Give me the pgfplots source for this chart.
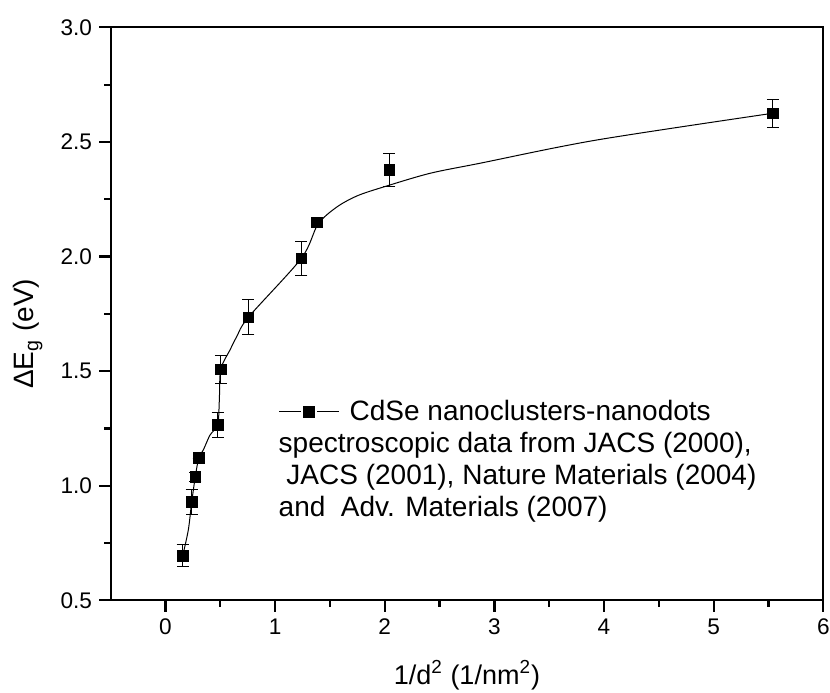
\documentclass[border=0pt]{standalone}
\usepackage{pgfplots}
\pgfplotsset{compat=1.18}
\usepackage{fontspec}
\setmainfont{Liberation Sans}
\begin{document}
\begin{tikzpicture}
\useasboundingbox (-55.35pt,-45.85pt) rectangle (359.65pt,300.15pt);
\begin{axis}[
  at={(0,0)}, anchor=south west,
  scale only axis, width=356.3pt, height=286.5pt,
  xmin=-0.5, xmax=6, ymin=0.5, ymax=3.0,
  xtick={0,1,2,3,4,5,6}, minor x tick num=1,
  ytick={0.5,1.0,1.5,2.0,2.5,3.0}, minor y tick num=1,
  tick pos=left, tick align=outside,
  major tick length=5.8pt, minor tick length=3.2pt,
  axis line style={line width=1.1pt},
  every tick/.style={line width=1.1pt, black},
  /pgf/number format/assume math mode=true,
  yticklabel style={/pgf/number format/fixed, /pgf/number format/precision=1, /pgf/number format/fixed zerofill, font=\fontsize{11.3}{13}\selectfont},
  xticklabel style={font=\fontsize{11.3}{13}\selectfont},
  xlabel={1/d\textsuperscript{2} (1/nm\textsuperscript{2})},
  ylabel={ΔE\textsubscript{g} (eV)},
  xlabel style={at={(axis description cs:0.5,-0.1466)}, anchor=base, font=\fontsize{13.5}{16}\selectfont},
  ylabel style={at={(axis description cs:-0.116,0.465)}, anchor=center, font=\fontsize{14}{16}\selectfont},
  legend style={at={(axis description cs:0.2352,0.329)}, anchor=west, draw=none, fill=none, inner sep=0pt, column sep=5pt,
    nodes={inner sep=0pt}, font=\fontsize{14}{16}\selectfont},
  legend cell align=left,
  legend image code/.code={
    \draw[line width=0.5pt, black] (0pt,0pt) -- (11pt,0pt);
    \draw[line width=0.5pt, black] (19pt,0pt) -- (30pt,0pt);
    \draw[black, mark=square*, mark size=2.67pt, mark options={fill=black}] plot coordinates {(15pt,0pt)};
  },
]
\addplot[black, line width=0.5pt, smooth, forget plot] coordinates {
(0.157,0.695) (0.208,0.807) (0.239,0.929) (0.272,1.04) (0.303,1.12)
(0.345,1.156) (0.406,1.221) (0.476,1.266) (0.491,1.374) (0.504,1.508)
(0.588,1.592) (0.649,1.650) (0.756,1.735) (1.239,1.992) (1.39,2.14)
(1.56,2.215) (1.75,2.265) (2.0,2.305) (2.413,2.363)
(2.87,2.407) (3.93,2.508) (5.54,2.625)
};
\addplot[black, only marks, mark=square*, mark size=2.67pt,
  error bars/.cd, y dir=both, y explicit,
  error bar style={line width=0.5pt, black},
  error mark options={rotate=90, mark size=3pt, line width=0.5pt, black}]
  coordinates {
(0.157,0.695) +- (0,0.048)
(0.239,0.929) +- (0,0.055)
(0.272,1.039) +- (0,0.02)
(0.303,1.120) +- (0,0)
(0.476,1.266) +- (0,0.055)
(0.504,1.508) +- (0,0.06)
(0.756,1.735) +- (0,0.077)
(1.239,1.992) +- (0,0.073)
(1.382,2.149) +- (0,0)
(2.042,2.377) +- (0,0.073)
(5.54,2.625) +- (0,0.06)
};
\addlegendentry{CdSe nanoclusters-nanodots}
\node[anchor=base west, inner sep=0pt, font=\fontsize{14}{16}\selectfont] at (axis description cs:0.2352,0.2585) {spectroscopic data from JACS (2000),};
\node[anchor=base west, inner sep=0pt, font=\fontsize{14}{16}\selectfont] at (axis description cs:0.2352,0.2023) {\ JACS (2001), Nature Materials (2004)};
\node[anchor=base west, inner sep=0pt, font=\fontsize{14}{16}\selectfont] at (axis description cs:0.2352,0.1461) {and\ \ Adv. Materials (2007)};
\end{axis}
\end{tikzpicture}
\end{document}
